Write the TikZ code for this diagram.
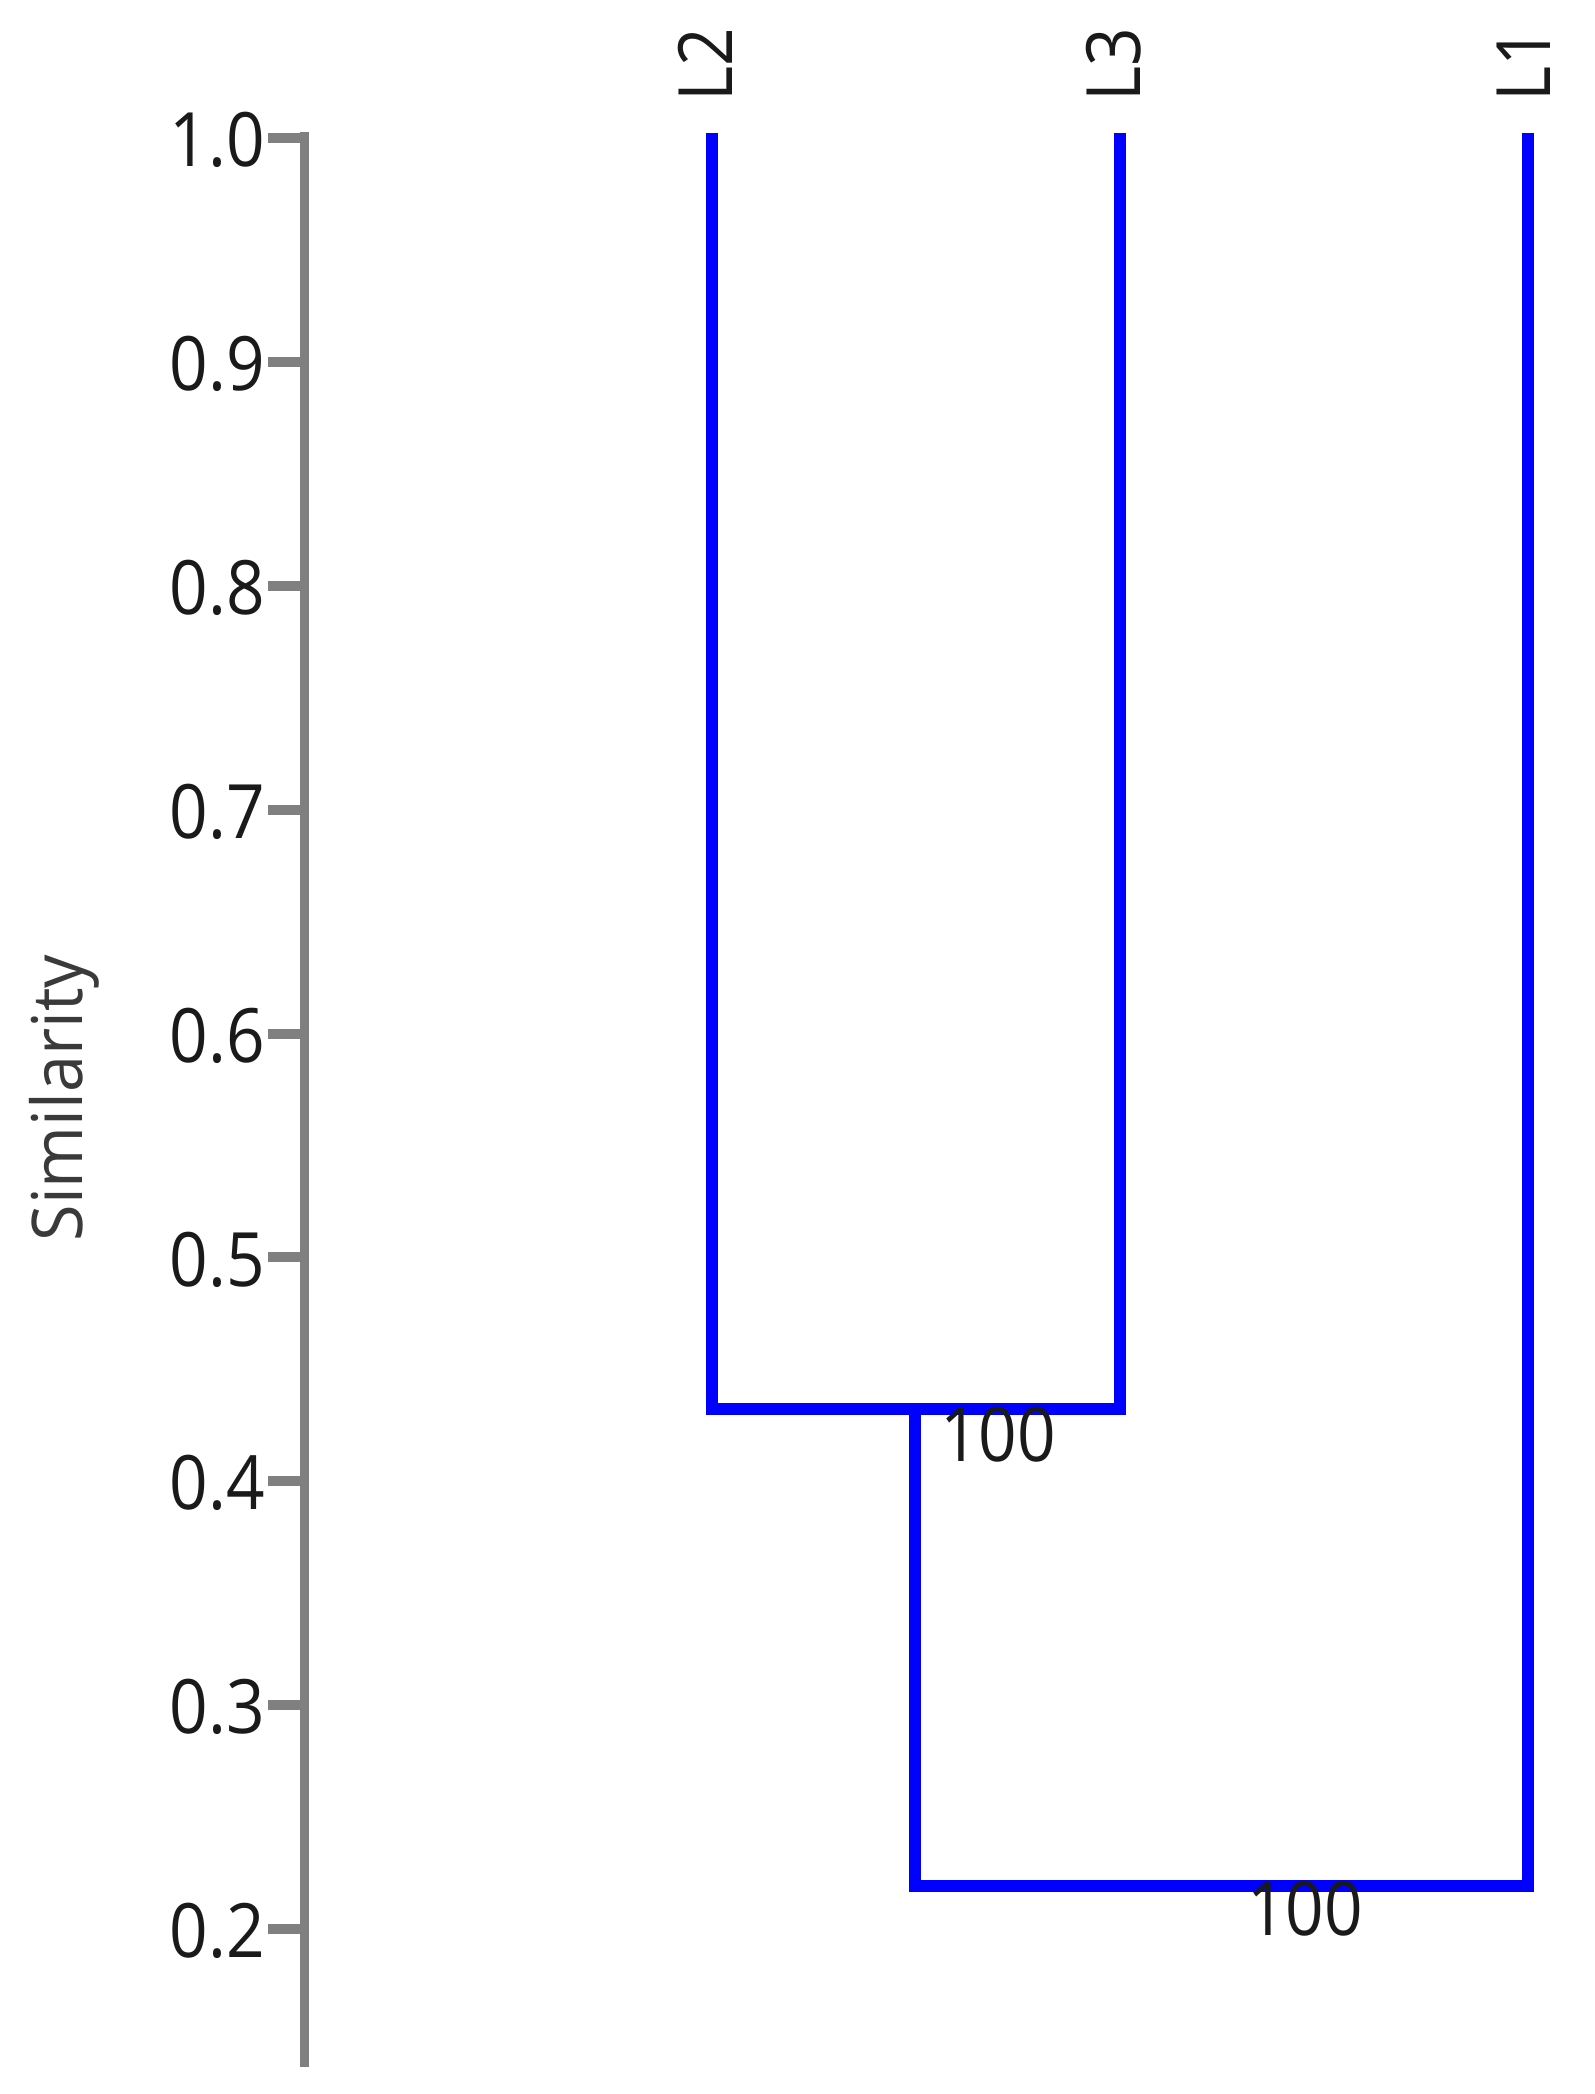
\documentclass[tikz,border=0pt]{standalone}
\usepackage{fontspec}
\setmainfont{Open Sans}[FakeStretch=0.9]
\newfontfamily\axisfont{Open Sans}[FakeStretch=0.95]
\definecolor{axisgray}{HTML}{808080}
\definecolor{treeblue}{HTML}{0000FF}
\definecolor{labelblack}{HTML}{1A1A1A}
\definecolor{titlegray}{HTML}{3A3A3A}
\begin{document}
\begin{tikzpicture}[x=1pt,y=-1pt,
  axisline/.style={draw=axisgray,line width=9pt},
  tickmark/.style={draw=axisgray,line width=10pt},
  branch/.style={draw=treeblue,line width=12pt,line join=miter},
  ticklabel/.style={font=\fontsize{75}{80}\selectfont,text=labelblack,inner sep=0pt,anchor=east},
  leaflabel/.style={font=\fontsize{75}{80}\selectfont,text=labelblack,inner sep=0pt,rotate=90,anchor=base west},
  bootlabel/.style={font=\fontsize{75}{80}\selectfont,text=labelblack,inner sep=0pt,anchor=north west},
  axlabel/.style={font=\axisfont\fontsize{70}{75}\selectfont,text=titlegray,inner sep=0pt,rotate=90,anchor=base}]
\useasboundingbox[fill=white] (0,0) rectangle (1595,2094);
% axis
\coordinate (atop) at (304,132);
\coordinate (abot) at (304,2067);
\draw[axisline] (atop) -- (abot);
\foreach \i/\v/\y in {10/1.0/138,9/0.9/361.9,8/0.8/585.8,7/0.7/809.6,6/0.6/1033.5,5/0.5/1257.4,4/0.4/1481.3,3/0.3/1705.2,2/0.2/1929}{
  \coordinate (ts\i) at (268,\y);
  \coordinate (te\i) at (304,\y);
  \draw[tickmark] (ts\i) -- (te\i);
  \node[ticklabel] (t\i) at (265,\y+2) {\v};
}
\node[axlabel] (ylab) at (82,1098) {Similarity};
% tree
\coordinate (l2top) at (712,133);
\coordinate (l3top) at (1120,133);
\coordinate (l1top) at (1528,133);
\coordinate (j1l) at (712,1409);
\coordinate (j1r) at (1120,1409);
\coordinate (j1) at (915,1409);
\coordinate (j2l) at (915,1886);
\coordinate (j2r) at (1528,1886);
\draw[branch] (l2top) -- (j1l) -- (j1r) -- (l3top);
\draw[branch] (j1) -- (j2l) -- (j2r) -- (l1top);
% leaf labels
\node[leaflabel] (L2) at (732,102) {L2};
\node[leaflabel] (L3) at (1140,102) {L3};
\node[leaflabel] (L1) at (1550,102) {L1};
% bootstrap values
\node[bootlabel] (b1) at (940,1407) {100};
\node[bootlabel] (b2) at (1247,1881) {100};
\end{tikzpicture}
\end{document}
